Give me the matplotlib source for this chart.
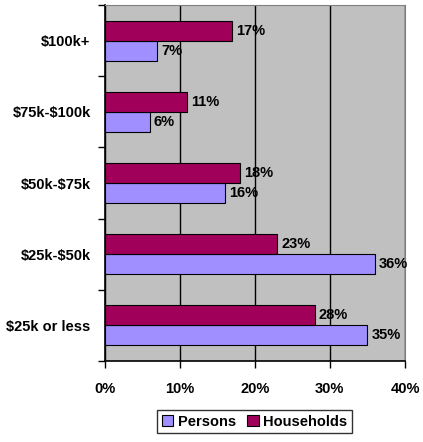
import numpy as np
import matplotlib
matplotlib.use("Agg")
import matplotlib.pyplot as plt

categories = ['$25k or less', '$25k-$50k', '$50k-$75k', '$75k-$100k', '$100k+']
persons = [35, 36, 16, 6, 7]
households = [28, 23, 18, 11, 17]
xticks = [0, 10, 20, 30, 40]

plt.rcParams['font.family'] = ['Liberation Sans', 'DejaVu Sans']
plt.rcParams['font.weight'] = 'bold'
plt.rcParams['text.parse_math'] = False

fs = 10.5

fig = plt.figure(figsize=(4.23, 4.42), dpi=100)
ax = fig.add_axes([104.5 / 423, 1 - 361 / 442, (405 - 104.5) / 423, (361 - 5) / 442])
ax.set_facecolor('#C0C0C0')

y = np.arange(len(categories))
h = 0.28
p_col = '#9F8FFF'
h_col = '#A0005A'
ax.barh(y - h / 2, persons, height=h, color=p_col, edgecolor='black', linewidth=0.8,
        label='Persons', zorder=3)
ax.barh(y + h / 2, households, height=h, color=h_col, edgecolor='black', linewidth=0.8,
        label='Households', zorder=3)

for i in range(len(categories)):
    ax.text(persons[i] + 0.55, y[i] - h / 2, f'{persons[i]}%', va='center', ha='left',
            fontsize=fs, fontweight='bold', zorder=4)
    ax.text(households[i] + 0.55, y[i] + h / 2, f'{households[i]}%', va='center', ha='left',
            fontsize=fs, fontweight='bold', zorder=4)

ax.set_xlim(0, 40)
ax.set_ylim(-0.5, len(categories) - 0.5)
ax.set_xticks(xticks)
ax.set_xticklabels([f'{v}%' for v in xticks], fontsize=fs, fontweight='bold')
ax.set_yticks(y)
ax.set_yticklabels(categories, fontsize=fs, fontweight='bold')
ax.set_yticks(np.arange(-0.5, len(categories), 1), minor=True)
ax.tick_params(axis='y', which='major', length=0, pad=10)
ax.tick_params(axis='y', which='minor', length=5, width=1)
ax.tick_params(axis='x', length=5, width=1, pad=10)
ax.grid(axis='x', color='black', linewidth=1, zorder=1)

for s in ['top', 'right']:
    ax.spines[s].set_color('#808080')
for s in ['left', 'bottom']:
    ax.spines[s].set_color('black')
    ax.spines[s].set_linewidth(1.2)

leg = fig.legend(loc='center', bbox_to_anchor=(254.5 / 423, 1 - 421.5 / 442), ncol=2,
                 fontsize=fs, frameon=True, fancybox=False, edgecolor='black',
                 handlelength=0.8, handleheight=0.8, handletextpad=0.3,
                 columnspacing=0.8, borderpad=0.3)
leg.get_frame().set_linewidth(1)

fig.savefig('out.png', dpi=100)
